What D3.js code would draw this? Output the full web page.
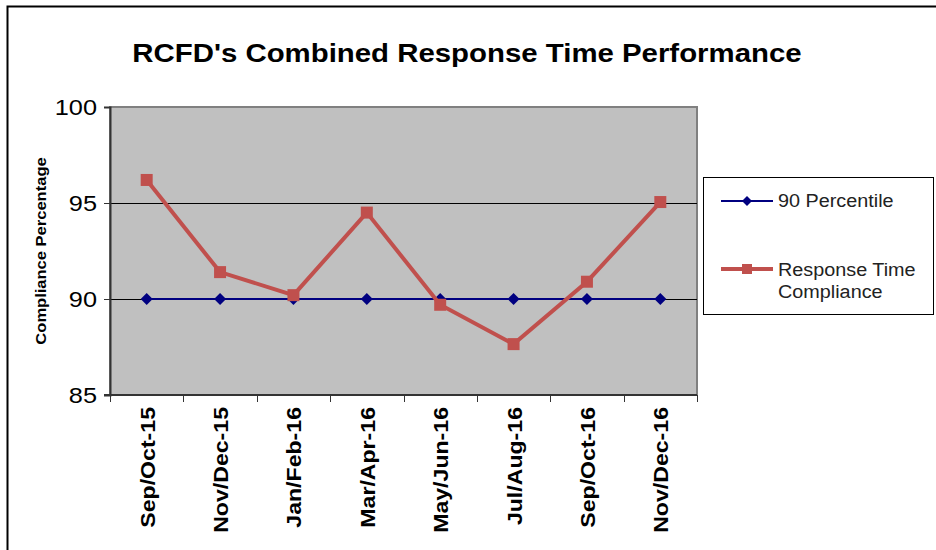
<!DOCTYPE html>
<html>
<head>
<meta charset="utf-8">
<script src="https://cdn.jsdelivr.net/npm/d3@7"></script>
<style>
  body { margin: 0; background: #fff; }
  svg { display: block; font-family: "Liberation Sans", Arial, sans-serif; }
</style>
</head>
<body>
<svg></svg>
<script>
const periods = ['Sep/Oct-15', 'Nov/Dec-15', 'Jan/Feb-16', 'Mar/Apr-16', 'May/Jun-16', 'Jul/Aug-16', 'Sep/Oct-16', 'Nov/Dec-16'];
const percentile90 = [90, 90, 90, 90, 90, 90, 90, 90];
const compliance = [96.2, 91.4, 90.2, 94.5, 89.7, 87.65, 90.9, 95.05];
const yTicks = [85, 90, 95, 100];

// the original text is drawn a bit wider than the font, so stretch it
function stretch(sel, k) {
  sel.each(function () {
    const w = this.getComputedTextLength();
    d3.select(this).attr('textLength', w * k).attr('lengthAdjust', 'spacingAndGlyphs');
  });
}

function drawChart() {
  const width = 936;
  const height = 550;
  const plot = { left: 110, top: 107, right: 697, bottom: 395 };

  const svg = d3.select('svg').attr('width', width).attr('height', height);

  // outer chart frame (only top and left show in the picture)
  svg.append('path')
    .attr('d', 'M7.5,550 V6.5 H936')
    .attr('fill', 'none')
    .attr('stroke', '#000')
    .attr('stroke-width', 2);

  svg.append('text')
    .attr('x', 467)
    .attr('y', 62)
    .attr('text-anchor', 'middle')
    .style('font-size', '26px')
    .style('font-weight', 'bold')
    .text("RCFD's Combined Response Time Performance")
    .call(stretch, 1.13);

  const x = d3.scaleBand().domain(periods).range([plot.left, plot.right]);
  const y = d3.scaleLinear().domain([85, 100]).range([plot.bottom, plot.top]);

  // plot area
  svg.append('rect')
    .attr('x', plot.left)
    .attr('y', plot.top)
    .attr('width', plot.right - plot.left)
    .attr('height', plot.bottom - plot.top)
    .attr('fill', '#c0c0c0')
    .attr('stroke', '#808080')
    .attr('stroke-width', 2);

  // gridlines
  svg.append('g')
    .selectAll('line')
    .data(yTicks.filter((d) => d > 85 && d < 100))
    .join('line')
    .attr('x1', plot.left)
    .attr('x2', plot.right)
    .attr('y1', (d) => Math.round(y(d)) + 0.5)
    .attr('y2', (d) => Math.round(y(d)) + 0.5)
    .attr('stroke', '#000')
    .attr('stroke-width', 1);

  // y axis
  const yAxis = svg.append('g')
    .attr('transform', 'translate(' + plot.left + ',0)')
    .call(d3.axisLeft(y).tickValues(yTicks).tickSize(6).tickPadding(7));
  yAxis.select('.domain').attr('stroke', '#333').attr('stroke-width', 2);
  yAxis.selectAll('.tick line').attr('stroke', '#333');
  yAxis.selectAll('.tick text')
    .style('font-size', '22px')
    .style('font-family', '"Liberation Sans", Arial, sans-serif')
    .attr('fill', '#000')
    .call(stretch, 1.15);

  svg.append('text')
    .attr('transform', 'translate(46,' + ((plot.top + plot.bottom) / 2) + ') rotate(-90)')
    .attr('text-anchor', 'middle')
    .style('font-size', '14px')
    .style('font-weight', 'bold')
    .text('Compliance Percentage')
    .call(stretch, 1.18);

  // x axis: ticks between categories
  const xg = svg.append('g').attr('transform', 'translate(0,' + plot.bottom + ')');
  xg.append('line')
    .attr('x1', plot.left - 6)
    .attr('x2', plot.right)
    .attr('stroke', '#333')
    .attr('stroke-width', 2);
  xg.selectAll('.sep')
    .data(d3.range(periods.length + 1))
    .join('line')
    .attr('class', 'sep')
    .attr('x1', (i) => Math.round(plot.left + i * x.step()) + 0.5)
    .attr('x2', (i) => Math.round(plot.left + i * x.step()) + 0.5)
    .attr('y1', 0)
    .attr('y2', 7)
    .attr('stroke', '#333');
  xg.selectAll('.lbl')
    .data(periods)
    .join('text')
    .attr('class', 'lbl')
    .attr('transform', (d) => 'translate(' + (x(d) + x.bandwidth() / 2 + 8) + ',12) rotate(-90)')
    .attr('text-anchor', 'end')
    .style('font-size', '21px')
    .style('font-weight', 'bold')
    .text((d) => d)
    .call(stretch, 1.1);

  const cx = (d, i) => x(periods[i]) + x.bandwidth() / 2;
  const line = d3.line().x((d, i) => cx(d, i)).y((d) => y(d));

  // 90 percentile series
  svg.append('path')
    .datum(percentile90)
    .attr('d', line)
    .attr('fill', 'none')
    .attr('stroke', '#000080')
    .attr('stroke-width', 2);
  svg.append('g')
    .selectAll('path')
    .data(percentile90)
    .join('path')
    .attr('transform', (d, i) => 'translate(' + cx(d, i) + ',' + y(d) + ')')
    .attr('d', 'M0,-6 L6,0 L0,6 L-6,0 Z')
    .attr('fill', '#000080');

  // response time compliance series
  svg.append('path')
    .datum(compliance)
    .attr('d', line)
    .attr('fill', 'none')
    .attr('stroke', '#c0504d')
    .attr('stroke-width', 4);
  svg.append('g')
    .selectAll('rect')
    .data(compliance)
    .join('rect')
    .attr('x', (d, i) => cx(d, i) - 6)
    .attr('y', (d) => y(d) - 6)
    .attr('width', 12)
    .attr('height', 12)
    .attr('fill', '#c0504d');

  // legend
  const lg = svg.append('g');
  lg.append('rect')
    .attr('x', 703.5)
    .attr('y', 177.5)
    .attr('width', 230)
    .attr('height', 137)
    .attr('fill', '#fff')
    .attr('stroke', '#000')
    .attr('stroke-width', 1);
  lg.append('line')
    .attr('x1', 721).attr('x2', 773).attr('y1', 201).attr('y2', 201)
    .attr('stroke', '#000080').attr('stroke-width', 2);
  lg.append('path')
    .attr('transform', 'translate(747,201)')
    .attr('d', 'M0,-5 L5,0 L0,5 L-5,0 Z')
    .attr('fill', '#000080');
  lg.append('line')
    .attr('x1', 721).attr('x2', 773).attr('y1', 269).attr('y2', 269)
    .attr('stroke', '#c0504d').attr('stroke-width', 4);
  lg.append('rect')
    .attr('x', 742).attr('y', 264).attr('width', 10).attr('height', 10)
    .attr('fill', '#c0504d');
  lg.selectAll('text')
    .data([['90 Percentile', 207], ['Response Time', 276], ['Compliance', 298]])
    .join('text')
    .attr('x', 778)
    .attr('y', (d) => d[1])
    .style('font-size', '18px')
    .attr('fill', '#222')
    .text((d) => d[0])
    .call(stretch, 1.1);
}

drawChart();
</script>
</body>
</html>
